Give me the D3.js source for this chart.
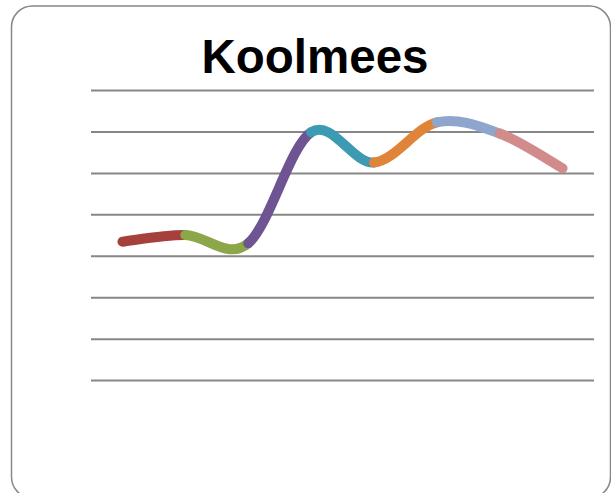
<!DOCTYPE html>
<html>
<head>
<meta charset="utf-8">
<script src="https://cdn.jsdelivr.net/npm/d3@7"></script>
<style>
  html, body { margin: 0; padding: 0; background: #fff; }
  svg { display: block; }
</style>
</head>
<body>
<svg id="chart" width="611" height="493"></svg>
<script>
// Chart data
const title = "Koolmees";
const categories = ["1", "2", "3", "4", "5", "6", "7", "8"];
const values = [43.4, 45.0, 43.0, 69.8, 62.5, 72.2, 69.5, 61.1];
const gridTicks = [10, 20, 30, 40, 50, 60, 70, 80];
const segmentColors = ["#A6403D", "#8CA64A", "#6E5492", "#3D9AB3", "#DF8438", "#8EA6CE", "#D18B8B"];

const W = 611, H = 493;
const plot = { left: 91, right: 594, top: 90, bottom: 421.5 };

const svg = d3.select("#chart");

// Rounded outer frame
svg.append("rect")
  .attr("x", 11.5).attr("y", 6)
  .attr("width", 599).attr("height", 492)
  .attr("rx", 21).attr("ry", 21)
  .attr("fill", "#fff")
  .attr("stroke", "#878787")
  .attr("stroke-width", 1.5);

// Title
svg.append("text")
  .attr("x", 315).attr("y", 73)
  .attr("text-anchor", "middle")
  .attr("font-family", "'Liberation Sans', Arial, sans-serif")
  .attr("font-weight", "bold")
  .attr("font-size", 47.5)
  .attr("fill", "#000")
  .text(title);

const x = d3.scalePoint().domain(categories).range([plot.left, plot.right]).padding(0.5);
const y = d3.scaleLinear().domain([0, 80]).range([plot.bottom, plot.top]);

// Horizontal gridlines
svg.append("g")
  .attr("transform", `translate(${plot.left},0)`)
  .call(d3.axisLeft(y).tickValues(gridTicks).tickSize(-(plot.right - plot.left)).tickFormat(""))
  .call(g => g.select(".domain").remove())
  .call(g => g.selectAll(".tick line").attr("stroke", "#878787").attr("stroke-width", 2));

// Smoothed line, drawn one coloured segment at a time (Catmull-Rom style Bezier)
const pts = categories.map((c, i) => [x(c), y(values[i])]);
const n = pts.length;
for (let i = 0; i < n - 1; i++) {
  const p0 = pts[Math.max(i - 1, 0)];
  const p1 = pts[i];
  const p2 = pts[i + 1];
  const p3 = pts[Math.min(i + 2, n - 1)];
  const c1 = [p1[0] + (p2[0] - p0[0]) / 6, p1[1] + (p2[1] - p0[1]) / 6];
  const c2 = [p2[0] - (p3[0] - p1[0]) / 6, p2[1] - (p3[1] - p1[1]) / 6];
  const path = d3.path();
  path.moveTo(p1[0], p1[1]);
  path.bezierCurveTo(c1[0], c1[1], c2[0], c2[1], p2[0], p2[1]);
  svg.append("path")
    .attr("d", path.toString())
    .attr("fill", "none")
    .attr("stroke", segmentColors[i])
    .attr("stroke-width", 10)
    .attr("stroke-linecap", "round");
}
</script>
</body>
</html>
